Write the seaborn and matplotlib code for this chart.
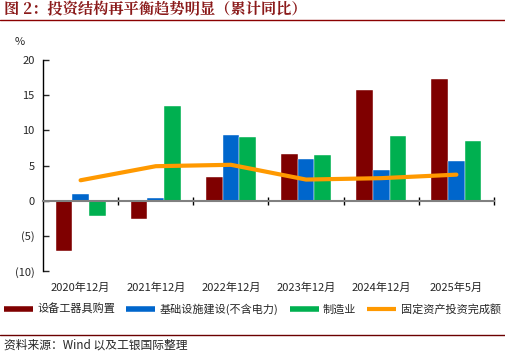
import numpy as np
import pandas as pd
import seaborn as sns
import matplotlib.pyplot as plt
from matplotlib.lines import Line2D
from matplotlib.ticker import FixedLocator, FuncFormatter

categories = ['2020年12月', '2021年12月', '2022年12月', '2023年12月', '2024年12月', '2025年5月']
equipment = [-7.1, -2.6, 3.4, 6.6, 15.7, 17.3]
infra = [0.9, 0.4, 9.4, 5.9, 4.4, 5.6]
manufacturing = [-2.2, 13.5, 9.1, 6.5, 9.2, 8.5]
fai = [2.9, 4.9, 5.1, 3.0, 3.2, 3.7]

series_names = ['设备工器具购置', '基础设施建设(不含电力)', '制造业']
line_name = '固定资产投资完成额'
colors = ['#7F0000', '#0066CC', '#00B050']
line_color = '#FF9900'

sns.set_style('white')
plt.rcParams['font.family'] = ['Noto Sans CJK SC', 'DejaVu Sans']

df = pd.DataFrame({
    'period': categories * 3,
    'series': [series_names[0]] * 6 + [series_names[1]] * 6 + [series_names[2]] * 6,
    'value': equipment + infra + manufacturing,
})

fig = plt.figure(figsize=(5.05, 3.54), dpi=100)
ax = fig.add_axes([43 / 505, 1 - 271 / 354, 451 / 505, 211 / 354])

sns.barplot(data=df, x='period', y='value', hue='series', palette=colors, saturation=1,
            width=2 / 3, gap=0, ax=ax, legend=False, edgecolor='white', linewidth=0.3)
sns.lineplot(x=np.arange(len(categories)), y=fai, color=line_color, linewidth=3,
             ax=ax, legend=False)

ax.set_xlim(-0.5, 5.5)
ax.set_ylim(-10, 20)
ax.set_yticks(range(-10, 21, 5))
ax.yaxis.set_major_formatter(FuncFormatter(lambda v, p: f'({abs(int(v))})' if v < 0 else f'{int(v)}'))
ax.tick_params(axis='y', direction='in', length=4, width=1, labelsize=8, pad=6, left=True)
ax.set_xlabel('')
ax.set_ylabel('')

for s in ['top', 'right']:
    ax.spines[s].set_visible(False)
ax.spines['left'].set_color('black')
ax.spines['left'].set_linewidth(1)
ax.spines['bottom'].set_position(('data', 0))
ax.spines['bottom'].set_color('#808080')
ax.spines['bottom'].set_linewidth(1.5)

ax.set_xticks(range(len(categories)))
ax.tick_params(axis='x', which='major', length=0, labelbottom=False)
ax.xaxis.set_minor_locator(FixedLocator(np.arange(0.5, 6, 1)))
ax.tick_params(axis='x', which='minor', direction='inout', length=6, width=1, color='black', bottom=True)

sec = ax.secondary_xaxis(0)
sec.set_xticks(range(len(categories)), categories)
sec.tick_params(length=0, labelsize=8, pad=8)
sec.spines['bottom'].set_visible(False)

fig.text(20 / 505, 1 - 42 / 354, '%', fontsize=8, ha='center', va='center')

fig.text(4 / 505, 1 - 10 / 354, '图 2：投资结构再平衡趋势明显（累计同比）', fontsize=11,
         fontweight='bold', color='#8B1A1A', ha='left', va='center',
         family=['Noto Serif CJK SC', 'Noto Sans CJK SC', 'DejaVu Sans'])
fig.add_artist(Line2D([0, 1], [1 - 20 / 354, 1 - 20 / 354], color='#8B0000', linewidth=1))
fig.add_artist(Line2D([0, 1], [1 - 335 / 354, 1 - 335 / 354], color='#6B0000', linewidth=1))
fig.text(4 / 505, 1 - 345 / 354, '资料来源：Wind 以及工银国际整理', fontsize=8.5,
         style='italic', ha='left', va='center')

handles = [Line2D([], [], color=c, linewidth=4, solid_capstyle='butt') for c in colors]
handles.append(Line2D([], [], color=line_color, linewidth=3, solid_capstyle='butt'))
fig.legend(handles, series_names + [line_name], loc='center',
           bbox_to_anchor=(0.5, 1 - 309 / 354), ncol=4, frameon=False, fontsize=8,
           handlelength=2.6, handletextpad=0.4, columnspacing=1.0)

fig.savefig('out.png', dpi=100)
